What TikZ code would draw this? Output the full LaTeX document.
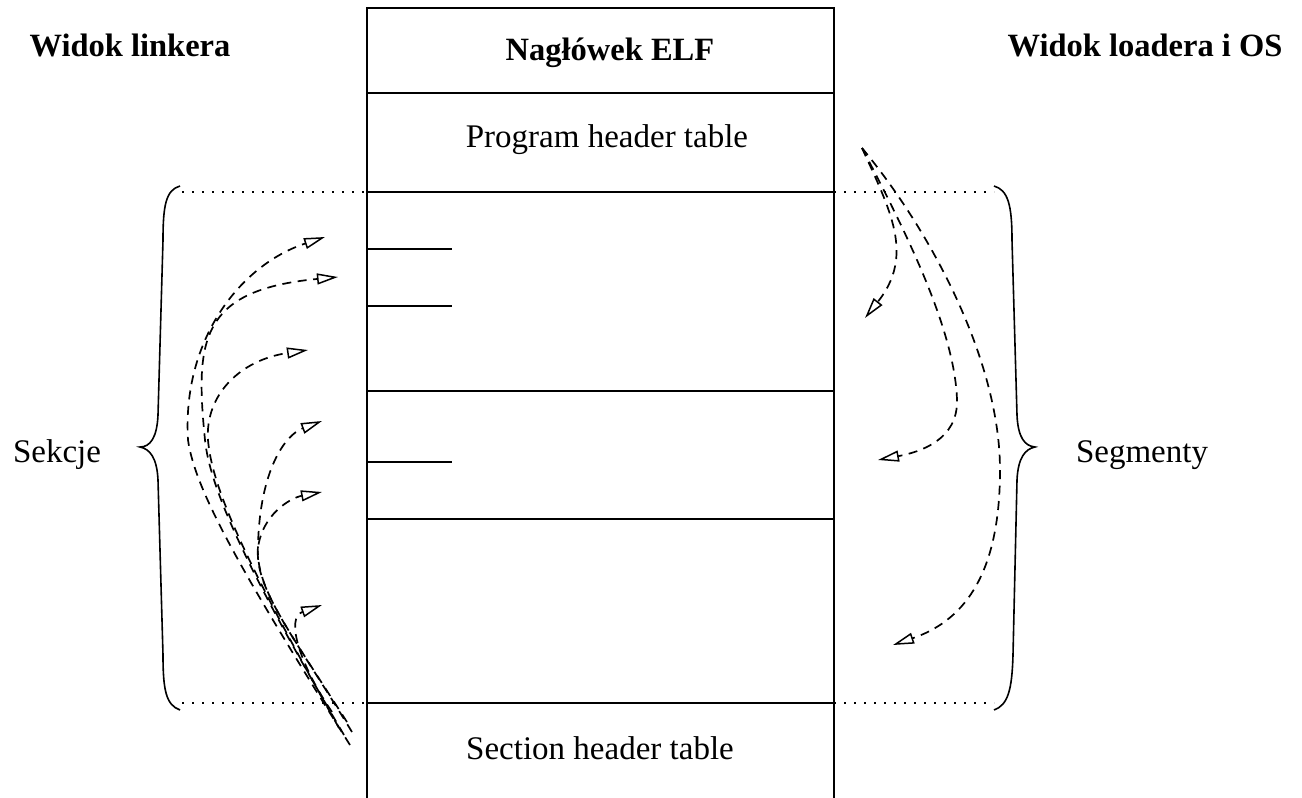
\documentclass[tikz,border=0pt]{standalone}
\usepackage{fontspec}
\setmainfont{Liberation Serif}
\usetikzlibrary{arrows.meta}
\begin{document}
\begin{tikzpicture}[x=1pt,y=-1pt,
  lbl/.style={inner sep=0pt,font=\fontsize{33}{38}\selectfont},
  blbl/.style={inner sep=0pt,font=\fontsize{32.5}{38}\selectfont\bfseries},
  frame/.style={line width=1.5pt},
  dotline/.style={line width=1.7pt,dash pattern=on 1.7pt off 8.3pt},
  bracepath/.style={line width=1.6pt},
  flow/.style={line width=1.7pt,dash pattern=on 9pt off 6.5pt,
     -{Triangle[open,length=21pt,width=11pt,line width=1.5pt]}}]
\useasboundingbox (0,0) rectangle (1302,798);
% frame
\draw[frame] (367,798) -- (367,8) -- (834,8) -- (834,798);
\foreach \yy in {93,192,391,519,703}
  \draw[frame] (367,\yy) -- (834,\yy);
\foreach \yy in {249,306,462}
  \draw[frame] (367,\yy) -- (452,\yy);
% texts
\node[blbl] (hdr) at (610,53) {Nagłówek ELF};
\node[lbl] (pht) at (607,140) {Program header table};
\node[lbl] (sht) at (600,748) {Section header table};
\node[blbl] (wl) at (130,45) {Widok linkera};
\node[blbl] (wo) at (1145,45) {Widok loadera i OS};
\node[lbl] (sek) at (57,455) {Sekcje};
\node[lbl] (seg) at (1142,455) {Segmenty};
% dotted guides
\draw[dotline] (182,192) -- (367,192);
\draw[dotline] (182,703) -- (367,703);
\draw[dotline] (834,192) -- (994,192);
\draw[dotline] (834,703) -- (994,703);
% braces
\draw[bracepath] (180,186) .. controls (166,190) and (163,205) .. (163,240) -- (158,415)
  .. controls (157,438) and (150,447) .. (140,447)
  .. controls (150,449) and (157,458) .. (158,480) -- (163,655)
  .. controls (163,690) and (166,705) .. (180,710);
\draw[bracepath] (994,186) .. controls (1008,190) and (1012,205) .. (1012,240) -- (1017,415)
  .. controls (1018,438) and (1025,446) .. (1035,447)
  .. controls (1025,449) and (1018,458) .. (1017,480) -- (1013,655)
  .. controls (1012,690) and (1008,705) .. (994,710);
% left arrows
\coordinate (s1) at (350,745);
\coordinate (s2) at (344,735);
\coordinate (s3) at (339,728);
\coordinate (s4) at (352,732);
\coordinate (s5) at (347,722);
\coordinate (s6) at (332,712);
\coordinate (e1) at (325,237);
\coordinate (e2) at (338,277);
\coordinate (e3) at (308,350);
\coordinate (e4) at (322,421);
\coordinate (e5) at (322,492);
\coordinate (e6) at (322,605);
\draw[flow] (s1) .. controls (240,570) and (195,490) .. (188,440)
   .. controls (182,340) and (240,265) .. (e1);
\draw[flow] (s2) .. controls (250,575) and (210,490) .. (205,440)
   .. controls (195,340) and (200,290) .. (e2);
\draw[flow] (s3) .. controls (250,570) and (212,490) .. (208,440)
   .. controls (205,395) and (240,360) .. (e3);
\draw[flow] (s4) .. controls (290,630) and (255,590) .. (258,545)
   .. controls (260,470) and (285,435) .. (e4);
\draw[flow] (s5) .. controls (285,625) and (255,585) .. (258,548)
   .. controls (262,515) and (290,498) .. (e5);
\draw[flow] (s6) .. controls (300,665) and (285,618) .. (e6);
% right arrows
\coordinate (r0) at (862,148);
\coordinate (r1) at (865,318);
\coordinate (r2) at (878,460);
\coordinate (r3) at (893,645);
\draw[flow] (r0) .. controls (890,210) and (915,255) .. (r1);
\draw[flow] (r0) .. controls (905,230) and (955,330) .. (957,400)
   .. controls (958,440) and (920,452) .. (r2);
\draw[flow] (r0) .. controls (930,230) and (1000,360) .. (1000,470)
   .. controls (1000,580) and (960,622) .. (r3);
\end{tikzpicture}
\end{document}
